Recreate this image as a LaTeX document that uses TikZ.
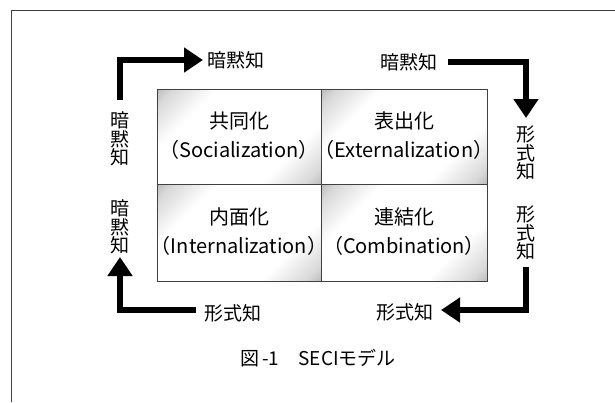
\documentclass[tikz,border=0pt]{standalone}
\usepackage{fontspec}
\setmainfont{Noto Sans CJK JP}
\usetikzlibrary{arrows.meta}
\pgfdeclareverticalshading{cellshade}{100bp}{color(0bp)=(black!30); color(13bp)=(black!30); color(19bp)=(black!15); color(31bp)=(white); color(69bp)=(white); color(81bp)=(black!15); color(87bp)=(black!30); color(100bp)=(black!30)}
\begin{document}
\begin{tikzpicture}[x=1pt,y=-1pt,
  cell/.style={draw=black!75, line width=0.9pt, shading=cellshade, shading angle=45},
  celltext/.style={align=center, font=\fontsize{20}{29}\selectfont, inner sep=0pt},
  lbl/.style={font=\fontsize{19}{19}\selectfont, inner sep=0pt},
  vlbl/.style={font=\fontsize{19}{18.5}\selectfont, inner sep=0pt, align=center},
  flow/.style={line width=6.5pt, -{Triangle[width=24pt,length=19pt]}}
]
\useasboundingbox (0,0) rectangle (615,402);
\fill[white] (0,0) rectangle (615,402);
% frame
\draw[black!75, line width=1pt] (11,402) -- (11,10) -- (615,10);
% cells
\draw[cell] (157,89) rectangle (321.5,184);
\draw[cell] (321.5,89) rectangle (487,184);
\draw[cell] (157,184) rectangle (321.5,281);
\draw[cell] (321.5,184) rectangle (487,281);
\node[celltext] (s) at (239,136) {共同化\\（Socialization）};
\node[celltext] (e) at (404,136) {表出化\\（Externalization）};
\node[celltext] (i) at (239,232) {内面化\\（Internalization）};
\node[celltext] (c) at (404,232) {連結化\\（Combination）};
% labels
\node[lbl, anchor=west] (tl) at (207,60) {暗黙知};
\node[lbl, anchor=east] (tr) at (438,62) {暗黙知};
\node[lbl, anchor=east] (br) at (434,312) {形式知};
\node[lbl, anchor=west] (bl) at (204,313) {形式知};
\node[vlbl] (lt) at (120,139) {暗\\黙\\知};
\node[vlbl] (lb) at (120,227) {暗\\黙\\知};
\node[vlbl] (rt) at (526,153) {形\\式\\知};
\node[vlbl] (rb) at (526,233) {形\\式\\知};
% arrows
\coordinate (a1s) at (120,100);
\coordinate (a1c) at (120,60);
\coordinate (a1e) at (203,60);
\draw[flow] (a1s) -- (a1c) -- (a1e);
\coordinate (a2s) at (448,62);
\coordinate (a2c) at (526,62);
\coordinate (a2e) at (526,118);
\draw[flow] (a2s) -- (a2c) -- (a2e);
\coordinate (a3s) at (526,267);
\coordinate (a3c) at (526,310);
\coordinate (a3e) at (441,310);
\draw[flow] (a3s) -- (a3c) -- (a3e);
\coordinate (a4s) at (196,310);
\coordinate (a4c) at (120,310);
\coordinate (a4e) at (120,257);
\draw[flow] (a4s) -- (a4c) -- (a4e);
% caption
\node[font=\fontsize{19}{19}\selectfont, inner sep=0pt] (cap) at (318,358) {図\,-1\hspace{1em}SECIモデル};
\end{tikzpicture}
\end{document}
